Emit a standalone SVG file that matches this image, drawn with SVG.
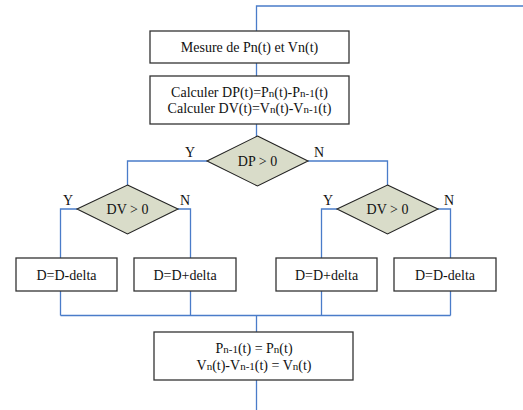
<svg xmlns="http://www.w3.org/2000/svg" width="523" height="410" viewBox="0 0 523 410">
  <style>
    .box { fill: #ffffff; stroke: #333333; stroke-width: 1.3; }
    .dec { fill: #d9dcc9; stroke: #222222; stroke-width: 1.1; }
    .wire { fill: none; stroke: #4a7cc9; stroke-width: 1.3; }
    text { font-family: "Liberation Serif", "Times New Roman", serif; font-size: 14px; fill: #111111; text-anchor: middle; }
    .sub { font-size: 11px; }
  </style>
  <rect width="523" height="410" fill="#ffffff"/>

  <g id="connectors">
    <polyline class="wire" points="523,6 256.5,6 256.5,31"/>
    <line class="wire" x1="256.5" y1="63" x2="256.5" y2="76"/>
    <line class="wire" x1="256.5" y1="124" x2="256.5" y2="136"/>
    <polyline class="wire" points="207,161 127.5,161 127.5,185"/>
    <polyline class="wire" points="308,161 387.5,161 387.5,185"/>
    <polyline class="wire" points="77,209 60.5,209 60.5,258"/>
    <polyline class="wire" points="178,209 190.5,209 190.5,258"/>
    <polyline class="wire" points="337,209 321.5,209 321.5,258"/>
    <polyline class="wire" points="438,209 450.5,209 450.5,258"/>
    <line class="wire" x1="60.5" y1="291" x2="60.5" y2="315.5"/>
    <line class="wire" x1="190.5" y1="291" x2="190.5" y2="315.5"/>
    <line class="wire" x1="321.5" y1="291" x2="321.5" y2="315.5"/>
    <line class="wire" x1="450.5" y1="291" x2="450.5" y2="315.5"/>
    <line class="wire" x1="60.5" y1="315.5" x2="450.5" y2="315.5"/>
    <line class="wire" x1="256.5" y1="315.5" x2="256.5" y2="332"/>
    <line class="wire" x1="256.5" y1="380" x2="256.5" y2="410"/>
    <text x="190" y="157">Y</text>
    <text x="319" y="157">N</text>
    <text x="68" y="205">Y</text>
    <text x="185" y="205">N</text>
    <text x="328" y="205">Y</text>
    <text x="449" y="205">N</text>
  </g>

  <g id="measure">
    <rect class="box" x="150" y="31" width="199" height="32"/>
    <text x="249.5" y="52">Mesure de Pn(t) et Vn(t)</text>
  </g>

  <g id="compute">
    <rect class="box" x="150" y="76" width="199" height="48"/>
    <text x="249.5" y="97">Calculer DP(t)=P<tspan class="sub">n</tspan>(t)-P<tspan class="sub">n-1</tspan>(t)</text>
    <text x="249.5" y="113">Calculer DV(t)=V<tspan class="sub">n</tspan>(t)-V<tspan class="sub">n-1</tspan>(t)</text>
  </g>

  <g id="test-dp">
    <polygon class="dec" points="257.5,136 308,161 257.5,186 207,161"/>
    <text x="257.5" y="166">DP &gt; 0</text>
  </g>

  <g id="test-dv-left">
    <polygon class="dec" points="127.5,185 178,209 127.5,234 77,209"/>
    <text x="127.5" y="214">DV &gt; 0</text>
  </g>

  <g id="test-dv-right">
    <polygon class="dec" points="387.5,185 438,209 387.5,234 337,209"/>
    <text x="387.5" y="214">DV &gt; 0</text>
  </g>

  <g id="dec-left-a">
    <rect class="box" x="16" y="258" width="101" height="33"/>
    <text x="66.5" y="279.5">D=D-delta</text>
  </g>

  <g id="inc-left-b">
    <rect class="box" x="134" y="258" width="102" height="33"/>
    <text x="185" y="279.5">D=D+delta</text>
  </g>

  <g id="inc-right-a">
    <rect class="box" x="276" y="258" width="101" height="33"/>
    <text x="326.5" y="279.5">D=D+delta</text>
  </g>

  <g id="dec-right-b">
    <rect class="box" x="394" y="258" width="102" height="33"/>
    <text x="445" y="279.5">D=D-delta</text>
  </g>

  <g id="update">
    <rect class="box" x="154" y="332" width="199" height="48"/>
    <text x="254" y="353">P<tspan class="sub">n-1</tspan>(t) = P<tspan class="sub">n</tspan>(t)</text>
    <text x="254" y="370">V<tspan class="sub">n</tspan>(t)-V<tspan class="sub">n-1</tspan>(t) = V<tspan class="sub">n</tspan>(t)</text>
  </g>
</svg>
